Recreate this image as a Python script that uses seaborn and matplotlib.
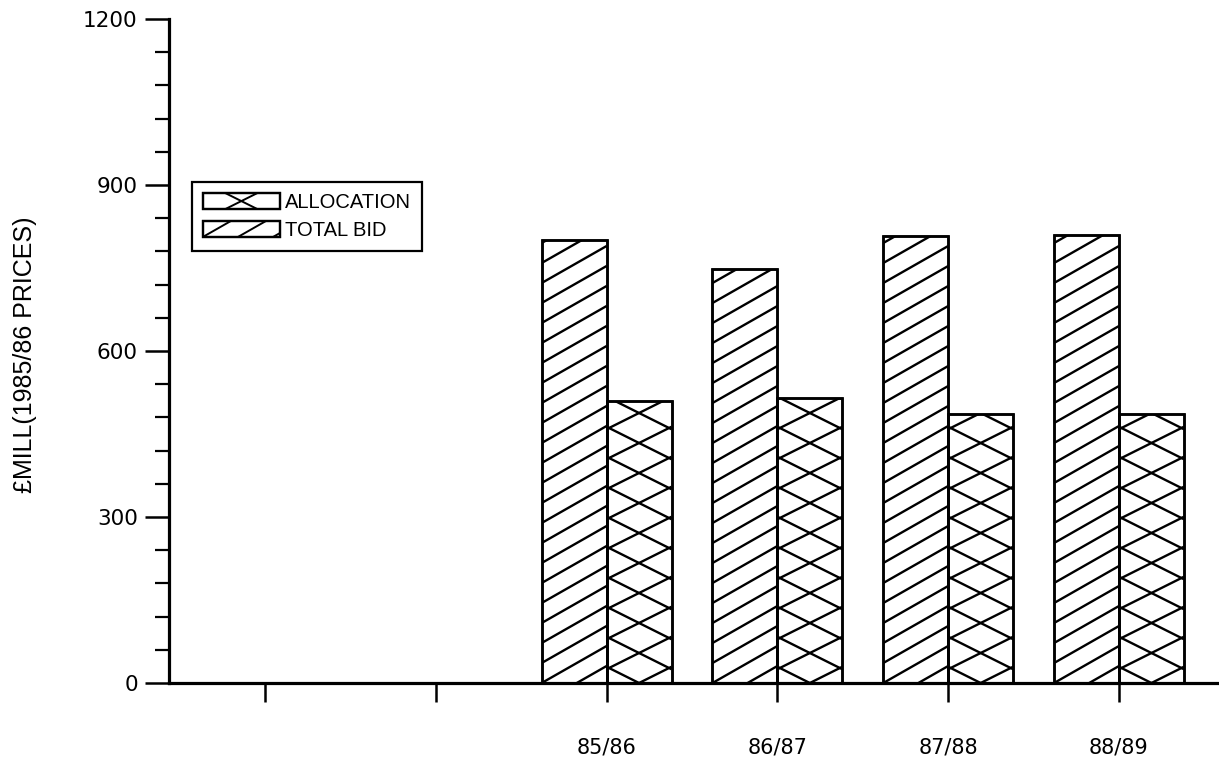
import numpy as np
import pandas as pd
import matplotlib
matplotlib.use("Agg")
import matplotlib.pyplot as plt
from matplotlib.collections import LineCollection
from matplotlib.patches import Rectangle, Patch
from matplotlib.legend_handler import HandlerBase
from matplotlib.ticker import MultipleLocator, FixedLocator
import seaborn as sns

# ---------------- data ----------------
PERIODS = ["", " ", "85/86", "86/87", "87/88", "88/89"]
TICK_LABELS = ["", "", "85/86", "86/87", "87/88", "88/89"]
DATA_PERIODS = ["85/86", "86/87", "87/88", "88/89"]
TOTAL_BID = [800, 748, 808, 809]
ALLOCATION = [509, 515, 487, 487]
SERIES_ORDER = ["TOTAL BID", "ALLOCATION"]
LEGEND_ORDER = ["ALLOCATION", "TOTAL BID"]
Y_TICKS = [0, 300, 600, 900, 1200]
Y_LABEL = "£MILL(1985/86 PRICES)"

DPI = 100

df = pd.DataFrame({
    "period": DATA_PERIODS * 2,
    "series": ["TOTAL BID"] * len(DATA_PERIODS) + ["ALLOCATION"] * len(DATA_PERIODS),
    "value": TOTAL_BID + ALLOCATION,
})

sns.set_theme(style="white")
plt.rcParams["font.family"] = ["DejaVu Sans"]
plt.rcParams["text.color"] = "black"
plt.rcParams["axes.labelcolor"] = "black"

fig = plt.figure(figsize=(12.19, 7.59), dpi=DPI)
ax = fig.add_axes([169 / 1219, 1 - 683 / 759, 1050 / 1219, 664 / 759])

sns.barplot(data=df, x="period", y="value", hue="series",
            order=PERIODS, hue_order=SERIES_ORDER,
            palette={"TOTAL BID": "white", "ALLOCATION": "white"},
            saturation=1, width=0.76, edgecolor="black", linewidth=1.8,
            errorbar=None, legend=False, ax=ax)

unit = (1119 - 265) / 5.0
ax.set_xlim(-(265 - 169) / unit, 5 + (1219 - 1119) / unit)
ax.set_ylim(0, 1200)


# ---------------- hatch helper ----------------
def hatch_segments(kind, x0, y0, x1, y1, scale=1.0, center_anchor=False):
    segs = []
    if kind == "single":
        s, v = 0.57, 20 * scale
        fams = [(s, x0, y0)]
    else:
        s, v = 0.5, 30 * scale
        xc = (x0 + x1) / 2
        ya = (y0 + y1) / 2 if center_anchor else y0
        fams = [(s, xc, ya), (-s, xc, ya)]
    for slope, xa, ya in fams:
        c0 = ya - slope * xa
        cmin = min(y0 - slope * x0, y0 - slope * x1)
        cmax = max(y1 - slope * x0, y1 - slope * x1)
        kmin = int(np.floor((cmin - c0) / v)) - 1
        kmax = int(np.ceil((cmax - c0) / v)) + 1
        for k in range(kmin, kmax + 1):
            c = c0 + k * v
            segs.append([(x0, slope * x0 + c), (x1, slope * x1 + c)])
    return segs


kinds = {"TOTAL BID": "single", "ALLOCATION": "cross"}
inv = ax.transData.inverted()
for series, cont in zip(SERIES_ORDER, ax.containers):
    for p in cont.patches:
        (px0, py0) = ax.transData.transform((p.get_x(), p.get_y()))
        (px1, py1) = ax.transData.transform((p.get_x() + p.get_width(),
                                             p.get_y() + p.get_height()))
        segs = hatch_segments(kinds[series], px0, py0, px1, py1)
        segs_data = [inv.transform(np.array(sg)) for sg in segs]
        lc = LineCollection(segs_data, colors="black", linewidths=1.7,
                            zorder=p.get_zorder() + 0.1)
        ax.add_collection(lc, autolim=False)
        lc.set_clip_path(p)

# redraw bar outlines on top
for cont in ax.containers:
    for p in cont.patches:
        r = Rectangle((p.get_x(), p.get_y()), p.get_width(), p.get_height(),
                      fill=False, edgecolor="black", linewidth=1.8,
                      zorder=p.get_zorder() + 0.2)
        ax.add_patch(r)

ax.set_xlim(-(265 - 169) / unit, 5 + (1219 - 1119) / unit)
ax.set_ylim(0, 1200)

# ---------------- axes styling ----------------
for side in ["top", "right"]:
    ax.spines[side].set_visible(False)
for side in ["left", "bottom"]:
    ax.spines[side].set_linewidth(2.3)
    ax.spines[side].set_color("black")

ax.yaxis.set_major_locator(FixedLocator(Y_TICKS))
ax.yaxis.set_minor_locator(MultipleLocator(60))
ax.set_yticklabels([str(t) for t in Y_TICKS])
ax.set_xticks(range(len(PERIODS)))
ax.set_xticklabels(TICK_LABELS)

ax.tick_params(axis="y", which="major", direction="out", length=17, width=1.8,
               pad=5.5, labelsize=15.5, colors="black", left=True)
ax.tick_params(axis="y", which="minor", direction="out", length=10, width=1.6,
               colors="black", left=True)
ax.tick_params(axis="x", which="major", direction="out", length=14, width=1.8,
               pad=25, labelsize=15, colors="black", bottom=True)
ax.set_xlabel("")
ax.set_ylabel(Y_LABEL, family=["Liberation Sans", "DejaVu Sans"], fontsize=18,
              color="black", ha="center", va="center")
ax.yaxis.set_label_coords((25 - 169) / 1050, (683 - 355) / 664)
ax.grid(False)


# ---------------- legend ----------------
class HatchHandler(HandlerBase):
    def __init__(self, kind):
        super().__init__()
        self.kind = kind

    def create_artists(self, legend, orig_handle, xdescent, ydescent,
                       width, height, fontsize, trans):
        x0, y0 = -xdescent, -ydescent
        rect = Rectangle((x0, y0), width, height, facecolor="white",
                         edgecolor="black", linewidth=1.6, transform=trans)
        segs = hatch_segments(self.kind, x0, y0, x0 + width, y0 + height,
                              scale=72 / DPI, center_anchor=True)
        lc = LineCollection(segs, colors="black", linewidths=1.4, transform=trans)
        lc.set_clip_path(rect)
        outline = Rectangle((x0, y0), width, height, fill=False,
                            edgecolor="black", linewidth=1.6, transform=trans)
        return [rect, lc, outline]


proxies = [Patch(facecolor="white", edgecolor="black") for _ in LEGEND_ORDER]
handler_map = {pr: HatchHandler(kinds[name]) for pr, name in zip(proxies, LEGEND_ORDER)}
leg = ax.legend(proxies, LEGEND_ORDER, handler_map=handler_map,
                loc="upper left",
                bbox_to_anchor=((192 - 169) / 1050, (683 - 182) / 664),
                borderaxespad=0, frameon=True, fancybox=False, shadow=False,
                prop={"family": ["Liberation Sans", "DejaVu Sans"], "size": 14.5},
                handlelength=3.8, handleheight=0.8, handletextpad=0.25,
                labelspacing=0.45, borderpad=0.55)
for t in leg.get_texts():
    t.set_color("black")
leg.get_frame().set_edgecolor("black")
leg.get_frame().set_linewidth(1.6)
leg.get_frame().set_alpha(1)

fig.savefig("out.png", dpi=DPI)
